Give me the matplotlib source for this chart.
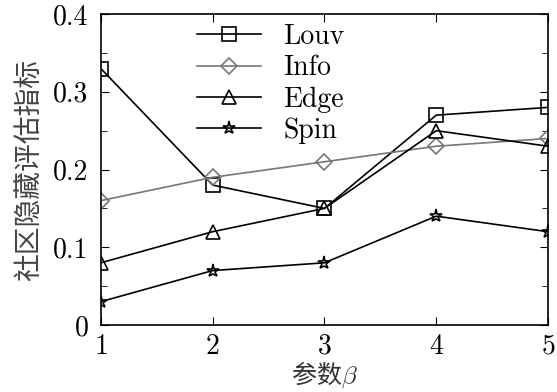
import matplotlib
matplotlib.use('Agg')
import matplotlib.pyplot as plt
from matplotlib.ticker import MultipleLocator

beta = [1, 2, 3, 4, 5]
louv = [0.33, 0.18, 0.15, 0.27, 0.28]
info = [0.16, 0.19, 0.21, 0.23, 0.24]
edge = [0.08, 0.12, 0.15, 0.25, 0.23]
spin = [0.03, 0.07, 0.08, 0.14, 0.12]
labels = ['Louv', 'Info', 'Edge', 'Spin']

plt.rcParams['font.family'] = ['cmr10', 'Noto Sans CJK SC']
plt.rcParams['mathtext.fontset'] = 'cm'
plt.rcParams['axes.formatter.use_mathtext'] = True

fig = plt.figure(figsize=(5.57, 3.92), dpi=100)
ax = fig.add_axes([0.181, 0.171, 0.803, 0.793])

kw = dict(linewidth=1.2, markersize=9.5, markerfacecolor='none', markeredgewidth=1.2)
ax.plot(beta, louv, marker='s', color='black', label=labels[0], **kw)
ax.plot(beta, info, marker='D', color='#777777', label=labels[1],
        linewidth=1.2, markersize=8, markerfacecolor='none', markeredgewidth=1.2)
ax.plot(beta, edge, marker='^', color='black', label=labels[2], **kw)
ax.plot(beta, spin, marker='*', color='black', label=labels[3], **kw)

ax.set_xlim(1, 5)
ax.set_ylim(0, 0.4)
ax.set_xticks(beta)
ax.set_yticks([0, 0.1, 0.2, 0.3, 0.4])
ax.set_yticklabels(['0', '0.1', '0.2', '0.3', '0.4'])
ax.yaxis.set_minor_locator(MultipleLocator(0.05))
ax.tick_params(which='both', direction='in', top=True, right=True, labelsize=20)
ax.tick_params(which='major', length=6)
ax.tick_params(axis='y', which='major', pad=9)
ax.tick_params(axis='x', which='major', pad=6)
ax.tick_params(which='minor', length=4)
for s in ax.spines.values():
    s.set_linewidth(1.2)

ax.set_ylabel('社区隐藏评估指标', fontsize=20, family=['Noto Sans CJK SC'],
              color='#444444', labelpad=6)
ax.set_xlabel('参数$\\beta$', fontsize=18, family=['Noto Sans CJK SC'],
              color='#333333', labelpad=0)

ax.legend(loc='upper left', bbox_to_anchor=(0.16, 1.05), frameon=False, fontsize=20,
          handlelength=2.3, labelspacing=0.18, handletextpad=0.8)

plt.savefig('out.png', dpi=100)
